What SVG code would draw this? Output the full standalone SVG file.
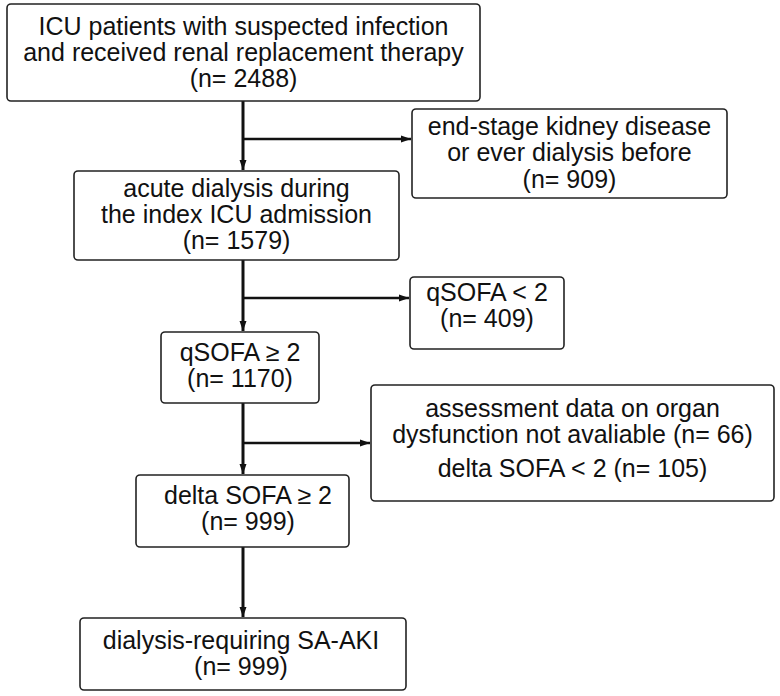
<svg xmlns="http://www.w3.org/2000/svg" width="780" height="696" viewBox="0 0 780 696">
<defs>
<marker id="ah" markerUnits="userSpaceOnUse" markerWidth="11" markerHeight="8" refX="10" refY="4" orient="auto">
<path d="M0,0.5 L10,4 L0,7.5 z" fill="#111"/>
</marker>
<style>
.box{fill:#fff;stroke:#222;stroke-width:1.6}
text{font-family:"Liberation Sans",Arial,sans-serif;font-size:25px;fill:#111;text-anchor:middle}
.ln{stroke:#111;stroke-width:3;fill:none}
.br{stroke:#111;stroke-width:2.5;fill:none}
</style>
</defs>
<rect width="780" height="696" fill="#fff"/>
<g id="connectors">
<line class="ln" x1="243" y1="101" x2="243" y2="170" marker-end="url(#ah)"/>
<line class="br" x1="243" y1="139" x2="411" y2="139" marker-end="url(#ah)"/>
<line class="ln" x1="243" y1="260" x2="243" y2="331" marker-end="url(#ah)"/>
<line class="br" x1="243" y1="298" x2="409" y2="298" marker-end="url(#ah)"/>
<line class="ln" x1="243" y1="403" x2="243" y2="474" marker-end="url(#ah)"/>
<line class="br" x1="243" y1="443" x2="370" y2="443" marker-end="url(#ah)"/>
<line class="ln" x1="243" y1="547" x2="243" y2="617" marker-end="url(#ah)"/>
</g>
<g id="n1">
<rect class="box" x="7" y="4" width="473" height="97" rx="4"/>
<text x="243.5" y="35">ICU patients with suspected infection</text>
<text x="243.5" y="61">and received renal replacement therapy</text>
<text x="243.5" y="87">(n= 2488)</text>
</g>
<g id="ex1">
<rect class="box" x="412" y="109" width="315" height="89" rx="4"/>
<text x="569.5" y="135">end-stage kidney disease</text>
<text x="569.5" y="161">or ever dialysis before</text>
<text x="569.5" y="188">(n= 909)</text>
</g>
<g id="n2">
<rect class="box" x="74" y="171" width="325" height="89" rx="4"/>
<text x="236.5" y="197">acute dialysis during</text>
<text x="236.5" y="223">the index ICU admission</text>
<text x="236.5" y="249">(n= 1579)</text>
</g>
<g id="ex2">
<rect class="box" x="410" y="277" width="154" height="72" rx="4"/>
<text x="487" y="301">qSOFA &lt; 2</text>
<text x="487" y="327">(n= 409)</text>
</g>
<g id="n3">
<rect class="box" x="161" y="332" width="158" height="71" rx="4"/>
<text x="240" y="361">qSOFA ≥ 2</text>
<text x="240" y="387">(n= 1170)</text>
</g>
<g id="ex3">
<rect class="box" x="371" y="385" width="403" height="116" rx="4"/>
<text x="572.5" y="417">assessment data on organ</text>
<text x="572.5" y="443">dysfunction not avaliable (n= 66)</text>
<text x="572.5" y="477">delta SOFA &lt; 2 (n= 105)</text>
</g>
<g id="n4">
<rect class="box" x="136" y="475" width="213" height="72" rx="4"/>
<text x="248" y="504">delta SOFA ≥ 2</text>
<text x="248" y="530">(n= 999)</text>
</g>
<g id="n5">
<rect class="box" x="80" y="618" width="326" height="72" rx="4"/>
<text x="241" y="649">dialysis-requiring SA-AKI</text>
<text x="241" y="675">(n= 999)</text>
</g>
</svg>
